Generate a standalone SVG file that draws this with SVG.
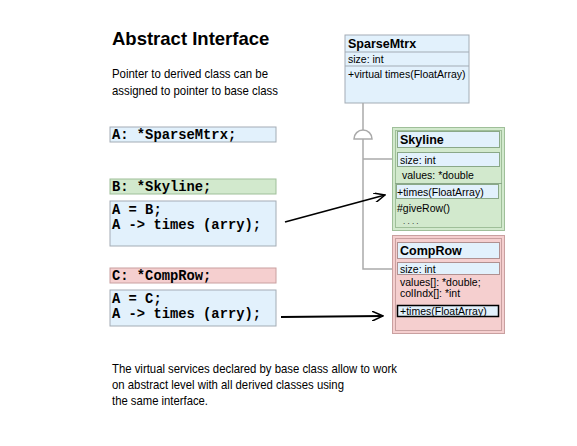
<svg xmlns="http://www.w3.org/2000/svg" width="577" height="446" viewBox="0 0 577 446">
<defs>
<marker id="arr" viewBox="0 0 12 10" refX="11" refY="5" markerWidth="12" markerHeight="10" markerUnits="userSpaceOnUse" orient="auto">
<path d="M0,0 L11,5 L0,10" fill="none" stroke="#000" stroke-width="1.5"/>
</marker>
<style>
.sans{font-family:"Liberation Sans",Arial,sans-serif;fill:#000}
.mono{font-family:"Liberation Mono","Courier New",monospace;font-weight:bold;font-size:13.8px;fill:#000}
.blue{fill:#e2f1fc;stroke:#a3acb5;stroke-width:1}
.green{fill:#d2e9cd;stroke:#9fbf99;stroke-width:1}
.pink{fill:#f5cfcf;stroke:#c9a0a0;stroke-width:1}
.conn{stroke:#aaaaaa;stroke-width:1.5;fill:none}
.ttl{font-weight:bold;font-size:12.5px}
.attr{font-size:10.5px}
.body{font-size:13px}
</style>
</defs>
<rect width="577" height="446" fill="#fff"/>

<g id="texts">
<text class="sans" x="112" y="45" font-size="18.5" font-weight="bold">Abstract Interface</text>
<text class="sans body" x="112" y="78" textLength="156" lengthAdjust="spacingAndGlyphs">Pointer to derived class can be</text>
<text class="sans body" x="112" y="95" textLength="166" lengthAdjust="spacingAndGlyphs">assigned to pointer to base class</text>
<text class="sans body" x="112" y="373" textLength="285" lengthAdjust="spacingAndGlyphs">The virtual services declared by base class allow to work</text>
<text class="sans body" x="112" y="389" textLength="232" lengthAdjust="spacingAndGlyphs">on abstract level with all derived classes using</text>
<text class="sans body" x="112" y="405" textLength="96" lengthAdjust="spacingAndGlyphs">the same interface.</text>
</g>

<g id="decl-a">
<rect class="blue" x="110" y="127" width="166" height="15"/>
<text class="mono" x="112" y="139">A: *SparseMtrx;</text>
</g>
<g id="decl-b">
<rect class="green" x="110" y="179" width="166" height="15"/>
<text class="mono" x="112" y="191">B: *Skyline;</text>
</g>
<g id="code-b">
<rect class="blue" x="110" y="201" width="166" height="45"/>
<text class="mono" x="112" y="214">A = B;</text>
<text class="mono" x="112" y="229">A -&gt; times (arry);</text>
</g>
<g id="decl-c">
<rect class="pink" x="110" y="268" width="166" height="15"/>
<text class="mono" x="112" y="280">C: *CompRow;</text>
</g>
<g id="code-c">
<rect class="blue" x="110" y="290" width="166" height="36"/>
<text class="mono" x="112" y="303">A = C;</text>
<text class="mono" x="112" y="318">A -&gt; times (arry);</text>
</g>

<g id="sparsemtrx">
<rect class="blue" x="345" y="35" width="124" height="68"/>
<line x1="345" y1="52" x2="469" y2="52" stroke="#a3acb5"/>
<line x1="345" y1="66" x2="469" y2="66" stroke="#a3acb5"/>
<text class="sans ttl" x="348" y="48" font-size="11.8">SparseMtrx</text>
<text class="sans attr" x="348" y="63">size: int</text>
<text class="sans attr" x="348" y="78">+virtual times(FloatArray)</text>
</g>

<g id="connectors">
<path class="conn" d="M363,103 V269 H393"/>
<path class="conn" d="M363,159 H393"/>
<path d="M354,139 A9,9 0 0 1 372,139 Z" fill="#fff" stroke="#aaaaaa" stroke-width="1.5"/>
<line x1="285" y1="222" x2="385" y2="195" stroke="#000" stroke-width="1.8" marker-end="url(#arr)"/>
<line x1="281" y1="317" x2="383" y2="316" stroke="#000" stroke-width="1.8" marker-end="url(#arr)"/>
</g>

<g id="skyline">
<rect class="green" x="392.5" y="127.5" width="112" height="103"/>
<rect x="395.5" y="130.5" width="106" height="97" fill="none" stroke="#9fbf99"/>
<rect class="blue" x="397.5" y="131.5" width="102" height="16" style="stroke:#8aa888"/>
<text class="sans ttl" x="400" y="144">Skyline</text>
<rect class="blue" x="397.5" y="152.5" width="102" height="14" style="stroke:#8aa888"/>
<text class="sans attr" x="400" y="164">size: int</text>
<text class="sans attr" x="402" y="179">values: *double</text>
<line x1="395" y1="183.5" x2="502" y2="183.5" stroke="#8aa888"/>
<rect class="blue" x="396.5" y="184.5" width="102" height="14" style="stroke:#8aa888"/>
<text class="sans attr" x="397" y="196">+times(FloatArray)</text>
<text class="sans attr" x="397" y="212">#giveRow()</text>
<text class="sans" x="403" y="224" font-size="8">. . . .</text>
</g>

<g id="comprow">
<rect class="pink" x="392.5" y="235.5" width="112" height="98"/>
<rect x="395.5" y="238.5" width="106" height="92" fill="none" stroke="#c9a0a0"/>
<rect class="blue" x="397.5" y="242.5" width="102" height="16" style="stroke:#b09090"/>
<text class="sans ttl" x="400" y="255">CompRow</text>
<rect class="blue" x="397.5" y="262.5" width="102" height="12" style="stroke:#b09090"/>
<text class="sans attr" x="400" y="273">size: int</text>
<text class="sans attr" x="400" y="286">values[]: *double;</text>
<text class="sans attr" x="400" y="297">colIndx[]: *int</text>
<rect x="397.5" y="305.5" width="101" height="11" fill="#e2f1fc" stroke="#000" stroke-width="1.5"/>
<text class="sans attr" x="400" y="315">+times(FloatArray)</text>
</g>
</svg>
